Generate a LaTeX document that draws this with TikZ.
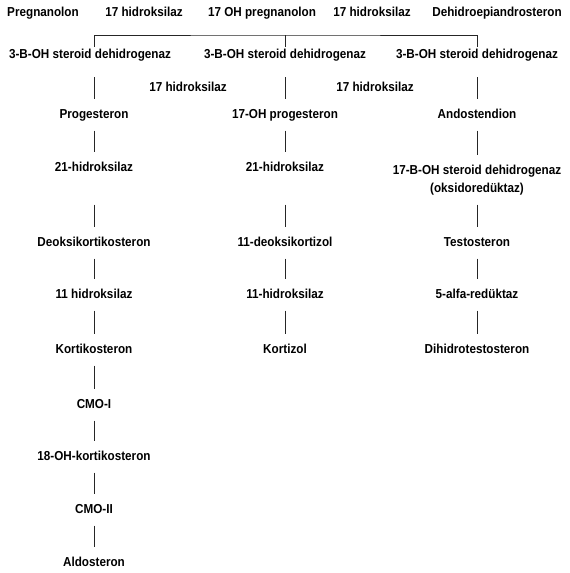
\documentclass[tikz,border=0pt]{standalone}
\usepackage{fontspec}
\setmainfont[FakeStretch=0.9]{Liberation Sans}
\usetikzlibrary{calc}

\begin{document}
\begin{tikzpicture}[x=1pt,y=-1pt,
  lbl/.style={font=\bfseries\fontsize{13}{18}\selectfont,inner xsep=1pt,inner ysep=9.4pt,text height=9.5pt,text depth=2.7pt},
  enz/.style={lbl,inner ysep=1.9pt},
  lbltwo/.style={font=\bfseries\fontsize{13}{18}\selectfont,align=center,inner xsep=1pt,inner ysep=9.4pt},
  link/.style={line width=0.8pt,color=black!85}]
\useasboundingbox (0,0) rectangle (570,573);

\node[lbl] (preg) at (43,13) {Pregnanolon};
\node[lbl] (hA) at (144,13) {17 hidroksilaz};
\node[lbl] (ohpreg) at (262,13) {17 OH pregnanolon};
\node[lbl] (hB) at (372,13) {17 hidroksilaz};
\node[lbl] (dhea) at (497,13) {Dehidroepiandrosteron};

\coordinate (br) at (285,35);
\node[enz] (dhA) at (90,55) {3-B-OH steroid dehidrogenaz};
\node[enz] (dhB) at (285,55) {3-B-OH steroid dehidrogenaz};
\node[enz] (dhC) at (477,55) {3-B-OH steroid dehidrogenaz};
\node[lbl] (hC) at (188,88) {17 hidroksilaz};
\node[lbl] (hD) at (375,88) {17 hidroksilaz};

\node[lbl] (prog) at (94,115) {Progesteron};
\node[lbl] (ohprog) at (285,115) {17-OH progesteron};
\node[lbl] (andro) at (477,115) {Andostendion};
\node[lbl] (hyA) at (94,168) {21-hidroksilaz};
\node[lbl] (hyB) at (285,168) {21-hidroksilaz};
\node[lbltwo] (oxred) at (477,180) {17-B-OH steroid dehidrogenaz\\(oksidoredüktaz)};
\node[lbl] (doc) at (94,243) {Deoksikortikosteron};
\node[lbl] (deox) at (285,243) {11-deoksikortizol};
\node[lbl] (testo) at (477,243) {Testosteron};
\node[lbl] (hyC) at (94,295) {11 hidroksilaz};
\node[lbl] (hyD) at (285,295) {11-hidroksilaz};
\node[lbl] (red) at (477,295) {5-alfa-redüktaz};
\node[lbl] (corti) at (94,350) {Kortikosteron};
\node[lbl] (cort) at (285,350) {Kortizol};
\node[lbl] (dht) at (477,350) {Dihidrotestosteron};
\node[lbl] (cmoA) at (94,405) {CMO-I};
\node[lbl] (ohcort) at (94,457) {18-OH-kortikosteron};
\node[lbl] (cmoB) at (94,510) {CMO-II};
\node[lbl] (aldo) at (94,563) {Aldosteron};

\draw[link] (dhA.north -| prog) |- (br) -| (dhC.north);
\draw[link] (br) -- (dhB.north);

\draw[link,shorten <=14pt] (dhA.south -| prog) -- (prog);
\draw[link,shorten <=14pt] (dhB) -- (ohprog);
\draw[link,shorten <=14pt] (dhC) -- (andro);

\draw[link] (prog) -- (hyA);
\draw[link] (ohprog) -- (hyB);
\draw[link] (andro) -- (oxred);
\draw[link] (hyA |- oxred.south) -- (doc);
\draw[link] (hyB |- oxred.south) -- (deox);
\draw[link] (oxred) -- (testo);
\draw[link] (doc) -- (hyC);
\draw[link] (deox) -- (hyD);
\draw[link] (testo) -- (red);
\draw[link] (hyC) -- (corti);
\draw[link] (hyD) -- (cort);
\draw[link] (red) -- (dht);
\draw[link] (corti) -- (cmoA);
\draw[link] (cmoA) -- (ohcort);
\draw[link] (ohcort) -- (cmoB);
\draw[link] (cmoB) -- (aldo);

\end{tikzpicture}
\end{document}
